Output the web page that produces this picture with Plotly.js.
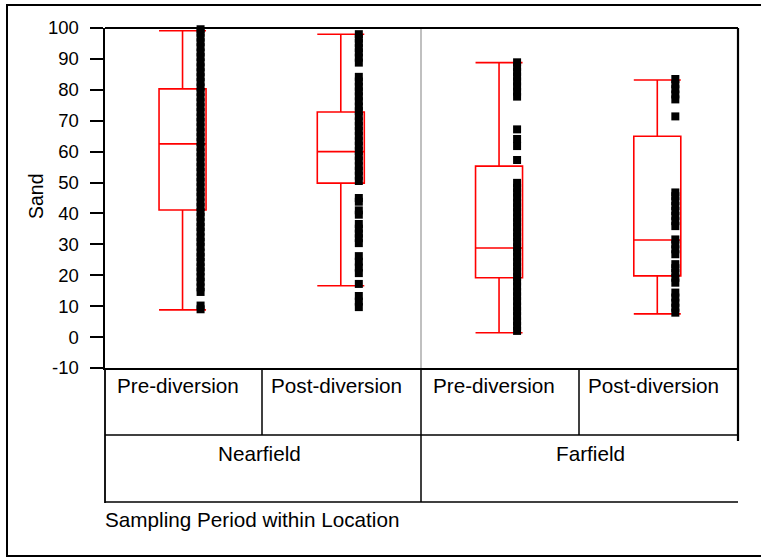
<!DOCTYPE html>
<html>
<head>
<meta charset="utf-8">
<script src="https://cdn.plot.ly/plotly-3.0.1.min.js"></script>
<style>html,body{margin:0;padding:0;background:#fff;}#chart{width:761px;height:558px;}</style>
</head>
<body>
<div id="chart"></div>
<script>
// ---- data ----
var periods = ["Pre-diversion", "Post-diversion", "Pre-diversion", "Post-diversion"];
var locations = ["Nearfield", "Farfield"];
var yTicks = [-10, 0, 10, 20, 30, 40, 50, 60, 70, 80, 90, 100];

var lowerFence = [8.8, 16.6, 1.4, 7.5];
var q1Vals     = [41.1, 49.8, 19.2, 19.8];
var medianVals = [62.5, 60.0, 28.8, 31.4];
var q3Vals     = [80.3, 72.8, 55.3, 65.0];
var upperFence = [99.1, 98.0, 88.8, 83.2];

var nearPre = [9, 10.2, 14.6, 16.1, 17.9, 19.4, 21.2, 22.6, 24.3, 25.9, 27.4, 29.2, 30.8, 32.3, 34.1, 35.6,
  37.2, 38.9, 40.5, 42.1, 43.6, 45.4, 46.9, 48.5, 50.2, 51.7, 53.4, 55.0, 56.6, 58.3, 59.8, 61.5, 63.1,
  64.7, 66.3, 67.9, 69.6, 71.1, 72.8, 74.4, 76.0, 77.6, 79.3, 80.8, 82.5, 84.1, 85.7, 87.3, 88.9, 90.6,
  92.1, 93.8, 95.4, 96.9, 98.5, 99.6];
var nearPost = [88.8, 90.4, 92.1, 93.5, 95.2, 96.6, 98.0,
  50.5, 52.2, 53.8, 55.3, 57.1, 58.6, 60.2, 61.9, 63.4, 65.1, 66.7, 68.3, 69.8, 71.5, 73.1, 74.6, 76.3,
  77.9, 79.5, 81.0, 82.7, 84.2,
  45.0, 43.8, 41.0, 39.6,
  30.4, 32.0, 33.5, 35.1, 36.6,
  20.7, 22.5, 24.4, 26.2,
  17.2,
  9.7, 11.5, 13.3];
var farPre = [77.8, 79.4, 81.1, 82.7, 84.3, 85.8, 87.4, 88.9,
  67.2, 64.1, 61.8, 57.3,
  2.0, 3.6, 5.1, 6.8, 8.4, 9.9, 11.6, 13.2, 14.7, 16.4, 18.0, 19.5, 21.2, 22.8, 24.3, 26.0, 27.6, 29.1,
  30.8, 32.4, 33.9, 35.6, 37.2, 38.7, 40.4, 42.0, 43.5, 45.2, 46.8, 48.3, 49.9];
var farPost = [76.9, 78.5, 80.2, 81.8, 83.5,
  71.4,
  35.9, 37.5, 39.2, 40.8, 42.4, 44.0, 45.6, 46.8,
  26.8, 28.4, 30.0, 31.6,
  17.6, 19.2, 20.8, 22.3, 23.6,
  7.9, 9.5, 11.1, 12.8, 14.4];

// ---- build ----
var groupPos = [0, 1, 2, 3];
var pointOffset = 0.114;
var pointSets = [nearPre, nearPost, farPre, farPost];

var traces = [{
  type: 'box',
  x: groupPos,
  q1: q1Vals, median: medianVals, q3: q3Vals,
  lowerfence: lowerFence, upperfence: upperFence,
  width: 0.297,
  whiskerwidth: 1,
  boxpoints: false,
  line: {color: '#ff0000', width: 1.6},
  fillcolor: 'rgba(0,0,0,0)',
  hoverinfo: 'skip',
  showlegend: false
}];
pointSets.forEach(function (vals, i) {
  traces.push({
    type: 'scatter', mode: 'markers',
    x: vals.map(function () { return groupPos[i] + pointOffset; }),
    y: vals,
    marker: {symbol: 'square', size: 8, color: '#000000'},
    hoverinfo: 'skip', showlegend: false, cliponaxis: false
  });
});

var fontFam = 'Arial, "Liberation Sans", sans-serif';
var L = 105, R = 738, T = 28, B = 368;
function px(x) { return (x - L) / (R - L); }
function py(y) { return (B - y) / (B - T); }

var lineBlk = function (x0, y0, x1, y1, w, c) {
  return {type: 'line', xref: 'paper', yref: 'paper', x0: px(x0), y0: py(y0), x1: px(x1), y1: py(y1),
          line: {color: c || '#000', width: w || 1.5}, layer: 'above'};
};

var shapes = [
  {type: 'rect', xref: 'paper', yref: 'paper', x0: px(7), x1: px(775), y0: py(556), y1: py(5),
   line: {color: '#000', width: 2}, fillcolor: 'rgba(0,0,0,0)'},
  lineBlk(421, T, 421, B, 2, '#c0c0c0'),
  lineBlk(L, T, R, T, 2.2),
  lineBlk(R, T, R, 441, 2.2),
  lineBlk(L, 435, R, 435, 1.5),
  lineBlk(L, 502, R, 502, 1.5),
  lineBlk(L, B, L, 503, 1.8),
  lineBlk(262, B, 262, 435, 1.5),
  lineBlk(421, B, 421, 502, 1.5),
  lineBlk(579, B, 579, 435, 1.5)
];

var textFont = {family: fontFam, size: 20.7, color: '#000'};
var periodX = [178, 336, 494, 653];
var annotations = periods.map(function (p, i) {
  return {xref: 'paper', yref: 'paper', x: px(periodX[i]), y: py(385.5), text: p, showarrow: false,
          xanchor: 'center', yanchor: 'middle', font: textFont};
});
var locX = [259, 590];
locations.forEach(function (l, i) {
  annotations.push({xref: 'paper', yref: 'paper', x: px(locX[i]), y: py(453.5), text: l, showarrow: false,
                    xanchor: 'center', yanchor: 'middle', font: textFont});
});
annotations.push({xref: 'paper', yref: 'paper', x: px(103), y: py(519.5), text: 'Sampling Period within Location',
                  showarrow: false, xanchor: 'left', yanchor: 'middle', font: textFont});
annotations.push({xref: 'paper', yref: 'paper', x: px(36), y: py(196), text: 'Sand', textangle: -90,
                  showarrow: false, xanchor: 'center', yanchor: 'middle',
                  font: {family: fontFam, size: 19.5, color: '#000'}});

var layout = {
  width: 761, height: 558,
  margin: {l: L, r: 761 - R, t: T, b: 558 - B, pad: 0},
  paper_bgcolor: '#fff', plot_bgcolor: '#fff',
  showlegend: false,
  hovermode: false,
  xaxis: {range: [-0.49, 3.51], showticklabels: false, ticks: '', showgrid: false, zeroline: false,
          showline: true, linecolor: '#000', linewidth: 1.5, fixedrange: true},
  yaxis: {range: [-10, 100], tickvals: yTicks, ticktext: yTicks.map(String), ticks: 'outside', ticklen: 13,
          tickwidth: 2, tickcolor: '#000', showgrid: false, zeroline: false, showline: true,
          linecolor: '#000', linewidth: 2.5, ticklabelstandoff: 7,
          tickfont: {family: fontFam, size: 18.5, color: '#000'}, fixedrange: true},
  shapes: shapes,
  annotations: annotations
};

Plotly.newPlot('chart', traces, layout, {displayModeBar: false, staticPlot: true});
</script>
</body>
</html>
